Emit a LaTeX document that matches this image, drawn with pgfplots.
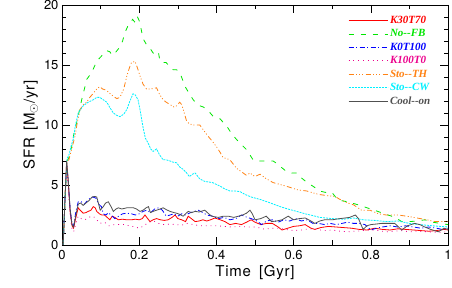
\documentclass[border=0pt]{standalone}
\usepackage{pgfplots}
\pgfplotsset{compat=1.18}
\usepackage{fontspec}
\setmainfont{TeX Gyre Heros}
\newfontfamily\labfont[LetterSpace=5]{TeX Gyre Heros}
\newfontfamily\legfont{Liberation Serif}
\definecolor{cgreen}{RGB}{0,230,0}
\definecolor{corange}{RGB}{255,130,20}
\definecolor{ccyan}{RGB}{0,240,255}
\definecolor{cgray}{RGB}{80,80,80}
\begin{document}
\begin{tikzpicture}
\useasboundingbox (-62pt,-43pt) rectangle (390pt,245pt);
\begin{axis}[
  at={(0pt,0pt)}, anchor=south west,
  scale only axis, width=386pt, height=240pt,
  xmin=0, xmax=1, ymin=0, ymax=20,
  xtick={0,0.2,0.4,0.6,0.8,1}, xticklabels={0,0.2,0.4,0.6,0.8,1},
  ytick={0,5,10,15,20},
  minor xtick={0.1,0.3,0.5,0.7,0.9},
  minor ytick={1,2,3,4,6,7,8,9,11,12,13,14,16,17,18,19},
  tick align=inside, xtick pos=both, ytick pos=both,
  major tick length=8pt, minor tick length=4.5pt,
  every tick/.style={black, line width=0.6pt},
  axis line style={line width=0.6pt},
  /pgf/number format/assume math mode=true,
  tick label style={font=\fontsize{13}{13}\selectfont},
  xticklabel style={yshift=-2pt},
  xlabel={Time\hspace{8pt}[Gyr]},
  ylabel={SFR\hspace{7pt}[M\raisebox{-2.5pt}{\fontsize{12}{12}\selectfont$\odot$}/yr]},
  label style={font=\labfont\fontsize{15}{15}\selectfont},
  xlabel style={yshift=2pt},
  ylabel style={yshift=-1pt},
  legend style={draw=none, fill=none, at={(286pt,231pt)}, anchor=north west,
    font=\legfont\bfseries\itshape\fontsize{11}{11}\selectfont, row sep=0.6pt, inner sep=0pt},
  legend cell align=left,
  legend image code/.code={\draw[#1] (0pt,0pt) -- (39pt,0pt);},
  every axis plot/.append style={line width=0.8pt},
]
\addplot[red] coordinates {(0.003,0) (0.008,4) (0.012,6.9) (0.016,5.3) (0.021,2.8) (0.026,1.6) (0.03,1.4) (0.036,2.3) (0.042,3.1) (0.047,2.9) (0.055,2.65) (0.062,2.7) (0.068,2.8) (0.075,2.9) (0.081,3.2) (0.086,3.1) (0.09,2.8) (0.097,2.6) (0.103,2.5) (0.11,2.5) (0.117,2.3) (0.124,2.1) (0.13,2.4) (0.137,2.3) (0.146,2.1) (0.156,2.15) (0.168,2.1) (0.18,2.1) (0.19,2.15) (0.2,2.1) (0.208,2.2) (0.215,2.5) (0.222,2.2) (0.228,1.95) (0.236,2.1) (0.245,2.2) (0.255,2.1) (0.265,2.05) (0.275,2.1) (0.285,2.3) (0.293,2.5) (0.3,2.2) (0.31,2.1) (0.32,1.95) (0.327,2.4) (0.335,2.2) (0.345,1.95) (0.355,2.0) (0.365,2.1) (0.375,2.0) (0.385,2.1) (0.396,2.25) (0.41,2.1) (0.422,1.95) (0.435,1.7) (0.45,1.8) (0.465,1.7) (0.478,1.9) (0.49,2.1) (0.5,1.9) (0.515,1.7) (0.53,1.8) (0.545,1.8) (0.56,1.5) (0.57,1.25) (0.585,1.4) (0.6,1.55) (0.615,1.6) (0.63,1.7) (0.645,1.4) (0.655,1.3) (0.67,1.45) (0.69,1.55) (0.71,1.5) (0.73,1.45) (0.75,1.4) (0.77,1.3) (0.79,1.25) (0.81,1.4) (0.83,1.3) (0.85,1.25) (0.87,1.35) (0.89,1.3) (0.91,1.25) (0.93,1.2) (0.95,1.15) (0.97,1.2) (0.99,1.3) (1.0,1.25)};
\addlegendentry{\textcolor{red}{K30T70}}
\addplot[cgreen, dash pattern=on 5pt off 7pt] coordinates {(0.003,0) (0.008,4) (0.013,7.0) (0.018,7.3) (0.025,8.2) (0.031,9.3) (0.038,10.2) (0.045,11.2) (0.051,12.1) (0.058,13.0) (0.064,13.8) (0.073,14.2) (0.08,14.6) (0.09,15.3) (0.098,15.6) (0.107,15.9) (0.115,16.2) (0.124,16.1) (0.13,15.8) (0.14,16.1) (0.15,16.5) (0.157,17.0) (0.163,17.7) (0.17,18.2) (0.176,18.5) (0.183,18.8) (0.188,18.6) (0.194,19.1) (0.2,18.7) (0.205,18.0) (0.21,17.2) (0.217,16.8) (0.223,16.5) (0.23,16.3) (0.236,16.0) (0.245,15.8) (0.25,16.0) (0.254,15.3) (0.262,15.2) (0.27,15.2) (0.28,14.8) (0.288,14.6) (0.297,14.6) (0.305,14.4) (0.312,13.8) (0.319,13.2) (0.33,12.6) (0.34,12.1) (0.348,11.8) (0.357,11.6) (0.366,11.5) (0.375,11.3) (0.384,11.0) (0.392,10.7) (0.4,10.6) (0.41,10.5) (0.418,10.2) (0.427,9.9) (0.435,9.5) (0.444,9.1) (0.452,8.8) (0.461,8.5) (0.47,8.2) (0.478,7.95) (0.487,7.5) (0.495,7.1) (0.508,7.0) (0.521,7.0) (0.534,7.0) (0.547,7.0) (0.556,6.8) (0.565,6.55) (0.575,6.3) (0.582,6.1) (0.595,6.0) (0.608,6.0) (0.62,5.6) (0.635,5.2) (0.65,4.9) (0.668,4.5) (0.68,4.4) (0.69,4.35) (0.70,4.35) (0.715,3.75) (0.74,3.6) (0.767,3.35) (0.79,3.1) (0.818,2.8) (0.835,2.6) (0.854,2.4) (0.868,2.2) (0.88,1.95) (0.9,1.95) (0.92,2.0) (0.94,2.1) (0.96,1.9) (0.98,1.8) (1.0,1.7)};
\addlegendentry{\textcolor{cgreen}{No--FB}}
\addplot[blue, dash pattern=on 5pt off 2.5pt on 1pt off 2.5pt] coordinates {(0.003,0) (0.008,4) (0.012,6.8) (0.016,5.4) (0.021,3.0) (0.026,1.7) (0.03,1.6) (0.036,2.8) (0.042,3.6) (0.05,3.6) (0.058,3.4) (0.066,3.7) (0.073,3.9) (0.08,4.0) (0.088,3.9) (0.095,3.4) (0.102,3.2) (0.107,2.6) (0.114,2.5) (0.12,2.7) (0.13,2.4) (0.137,2.2) (0.147,2.4) (0.157,2.6) (0.168,2.65) (0.18,2.6) (0.19,2.5) (0.2,2.6) (0.21,2.8) (0.22,2.9) (0.23,2.7) (0.24,3.0) (0.25,3.1) (0.26,2.9) (0.27,2.4) (0.28,2.5) (0.29,2.6) (0.3,2.4) (0.31,2.6) (0.32,2.5) (0.333,2.7) (0.343,2.8) (0.353,2.9) (0.365,2.7) (0.375,2.5) (0.39,2.4) (0.405,2.2) (0.42,2.3) (0.435,2.1) (0.45,2.2) (0.465,2.5) (0.48,2.3) (0.49,2.2) (0.505,2.0) (0.517,1.7) (0.53,2.0) (0.545,2.1) (0.56,1.9) (0.575,2.1) (0.59,2.0) (0.605,2.2) (0.62,2.0) (0.635,2.1) (0.65,1.8) (0.665,1.8) (0.68,1.7) (0.695,1.8) (0.71,1.7) (0.725,1.8) (0.74,1.9) (0.755,1.8) (0.77,1.8) (0.785,1.7) (0.8,1.25) (0.815,1.4) (0.83,1.5) (0.85,1.6) (0.87,1.5) (0.89,1.6) (0.91,1.5) (0.93,1.4) (0.95,1.5) (0.97,1.4) (0.985,1.3) (1.0,1.4)};
\addlegendentry{\textcolor{blue}{K0T100}}
\addplot[magenta, dash pattern=on 0.8pt off 4pt] coordinates {(0.003,0) (0.008,4) (0.012,6.5) (0.016,5.0) (0.021,2.5) (0.026,1.3) (0.03,1.1) (0.036,1.8) (0.042,2.4) (0.05,2.2) (0.058,2.1) (0.066,2.2) (0.075,2.4) (0.085,2.3) (0.098,1.8) (0.11,1.9) (0.122,1.6) (0.135,1.7) (0.148,1.7) (0.16,1.7) (0.175,1.6) (0.19,1.5) (0.2,1.4) (0.212,1.6) (0.225,1.9) (0.238,2.0) (0.25,1.8) (0.265,1.7) (0.28,1.75) (0.295,1.7) (0.31,1.65) (0.325,1.8) (0.34,1.7) (0.36,1.6) (0.38,1.6) (0.4,1.6) (0.42,1.55) (0.44,1.5) (0.46,1.55) (0.48,1.5) (0.5,1.5) (0.515,1.4) (0.526,1.3) (0.54,1.4) (0.56,1.4) (0.58,1.3) (0.6,1.2) (0.62,1.25) (0.64,1.35) (0.66,1.3) (0.68,1.2) (0.7,1.25) (0.72,1.15) (0.74,1.1) (0.76,1.15) (0.78,1.2) (0.8,1.25) (0.82,1.2) (0.84,1.1) (0.86,1.15) (0.88,1.2) (0.9,1.1) (0.92,1.15) (0.95,1.1) (0.98,1.05) (1.0,1.1)};
\addlegendentry{\textcolor{magenta}{K100T0}}
\addplot[corange, dash pattern=on 5pt off 2.5pt on 1pt off 2pt on 1pt off 2pt on 1pt off 2.5pt] coordinates {(0.003,0) (0.008,4) (0.013,7.0) (0.018,7.1) (0.025,8.0) (0.034,9.1) (0.04,10.3) (0.047,11.3) (0.055,11.7) (0.064,11.9) (0.072,12.3) (0.08,12.6) (0.09,13.0) (0.098,13.2) (0.105,13.0) (0.115,12.9) (0.125,12.6) (0.133,12.4) (0.142,12.2) (0.15,12.3) (0.16,13.0) (0.168,14.1) (0.175,14.8) (0.18,15.2) (0.189,15.3) (0.195,14.8) (0.202,14.1) (0.21,13.4) (0.219,13.0) (0.23,13.0) (0.245,13.1) (0.252,12.6) (0.262,12.1) (0.27,11.9) (0.28,11.7) (0.29,11.5) (0.297,11.6) (0.305,11.9) (0.31,11.7) (0.314,11.3) (0.323,10.3) (0.33,10.1) (0.34,10.0) (0.357,10.0) (0.366,9.6) (0.375,9.2) (0.388,8.7) (0.4,8.2) (0.41,7.7) (0.417,7.3) (0.435,7.1) (0.452,6.4) (0.465,6.1) (0.478,5.8) (0.487,6.0) (0.5,5.7) (0.513,5.9) (0.53,5.5) (0.547,5.2) (0.57,5.0) (0.591,4.8) (0.61,4.6) (0.634,4.5) (0.655,4.3) (0.668,4.2) (0.69,4.1) (0.707,4.05) (0.72,3.8) (0.74,3.5) (0.755,3.35) (0.776,2.9) (0.798,2.9) (0.82,2.6) (0.84,2.5) (0.87,2.5) (0.893,2.4) (0.92,2.25) (0.945,2.1) (0.966,1.95) (1.0,1.95)};
\addlegendentry{\textcolor{corange}{Sto--TH}}
\addplot[ccyan, dash pattern=on 2pt off 1pt] coordinates {(0.003,0) (0.008,4) (0.013,7.2) (0.018,7.5) (0.024,8.3) (0.029,8.8) (0.035,10.0) (0.042,11.0) (0.055,11.6) (0.068,11.9) (0.081,12.1) (0.09,12.3) (0.098,12.3) (0.107,12.1) (0.116,11.9) (0.125,11.4) (0.133,11.0) (0.142,10.8) (0.15,10.7) (0.16,10.9) (0.168,11.3) (0.176,12.0) (0.184,12.6) (0.19,12.5) (0.197,12.1) (0.202,11.3) (0.21,9.8) (0.216,8.9) (0.223,8.5) (0.23,8.0) (0.236,7.8) (0.245,8.0) (0.253,7.5) (0.262,7.1) (0.27,7.1) (0.28,7.0) (0.288,6.9) (0.297,6.85) (0.305,6.5) (0.314,6.3) (0.323,6.0) (0.33,5.7) (0.338,5.9) (0.345,6.0) (0.357,5.5) (0.37,5.3) (0.39,5.2) (0.41,4.9) (0.42,4.7) (0.435,4.5) (0.448,4.5) (0.461,4.45) (0.475,4.2) (0.49,4.0) (0.513,3.8) (0.54,3.5) (0.565,3.2) (0.585,3.0) (0.608,2.8) (0.63,2.6) (0.65,2.45) (0.668,2.3) (0.7,2.2) (0.73,2.15) (0.755,2.25) (0.78,2.1) (0.81,2.05) (0.84,1.95) (0.87,2.0) (0.9,1.8) (0.927,1.7) (0.96,1.6) (1.0,1.5)};
\addlegendentry{\textcolor{ccyan}{Sto--CW}}
\addplot[cgray] coordinates {(0.003,0) (0.008,4) (0.012,7.0) (0.016,5.5) (0.021,3.0) (0.026,1.7) (0.03,1.5) (0.036,2.5) (0.042,3.4) (0.048,3.5) (0.055,3.3) (0.062,3.5) (0.07,3.7) (0.078,4.0) (0.085,4.05) (0.09,4.0) (0.095,3.4) (0.099,2.9) (0.107,3.2) (0.113,3.5) (0.12,3.6) (0.127,3.2) (0.133,2.8) (0.14,3.0) (0.146,3.1) (0.155,3.0) (0.168,3.1) (0.177,3.1) (0.185,3.1) (0.193,3.0) (0.202,2.8) (0.21,2.9) (0.218,3.1) (0.224,3.2) (0.229,2.7) (0.236,2.8) (0.245,2.9) (0.254,3.0) (0.262,3.1) (0.27,2.95) (0.28,2.8) (0.29,2.7) (0.297,2.65) (0.305,2.55) (0.314,2.4) (0.32,2.6) (0.327,2.8) (0.336,2.7) (0.345,2.8) (0.355,2.75) (0.37,2.9) (0.38,2.6) (0.388,2.4) (0.396,2.35) (0.405,2.3) (0.418,2.4) (0.431,2.4) (0.445,2.3) (0.457,2.4) (0.468,2.5) (0.478,2.65) (0.487,2.9) (0.493,2.6) (0.5,2.1) (0.515,2.2) (0.529,2.4) (0.543,1.95) (0.556,2.0) (0.57,2.1) (0.586,2.4) (0.6,2.1) (0.615,2.2) (0.63,2.25) (0.645,2.0) (0.655,1.8) (0.668,2.0) (0.68,2.1) (0.7,2.1) (0.72,2.2) (0.733,2.25) (0.745,2.3) (0.76,2.5) (0.768,2.2) (0.78,1.3) (0.79,1.6) (0.8,1.7) (0.815,1.75) (0.828,1.8) (0.845,1.8) (0.862,1.8) (0.872,1.5) (0.88,1.25) (0.895,1.6) (0.914,1.8) (0.927,1.7) (0.94,1.5) (0.955,1.3) (0.975,1.1) (0.99,1.4) (1.0,1.3)};
\addlegendentry{\textcolor{cgray}{Cool--on}}
\end{axis}
\end{tikzpicture}
\end{document}
